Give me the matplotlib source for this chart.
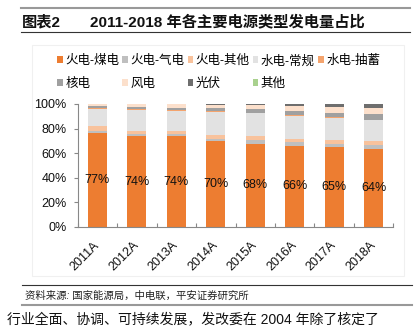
import matplotlib
matplotlib.use('Agg')
import matplotlib.pyplot as plt
import numpy as np
from matplotlib.lines import Line2D
from matplotlib.patches import Rectangle
from matplotlib.ticker import MultipleLocator, FuncFormatter
from matplotlib.transforms import ScaledTranslation

plt.rcParams['font.family'] = ['Liberation Sans', 'Noto Sans CJK SC', 'DejaVu Sans']

years = ['2011A', '2012A', '2013A', '2014A', '2015A', '2016A', '2017A', '2018A']
coal = [76.6, 73.6, 73.6, 69.6, 67.6, 65.6, 64.6, 63.6]
gas = [1.8, 2.0, 2.1, 2.2, 3.0, 3.1, 3.2, 3.2]
thermal_other = [3.6, 2.6, 2.6, 3.3, 3.2, 3.0, 3.2, 3.2]
hydro = [14.2, 17.0, 16.2, 18.6, 18.6, 18.9, 17.6, 16.8]
pumped = [0.4, 0.4, 0.4, 0.4, 0.5, 0.5, 0.5, 0.5]
nuclear = [1.8, 2.0, 2.1, 2.4, 3.0, 3.5, 3.9, 4.2]
wind = [1.3, 2.0, 2.6, 2.8, 3.2, 4.0, 4.8, 5.3]
solar = [0.3, 0.4, 0.4, 0.7, 0.9, 1.4, 2.2, 3.2]
others = [0.0, 0.0, 0.0, 0.0, 0.0, 0.0, 0.0, 0.0]

series = [coal, gas, thermal_other, hydro, pumped, nuclear, wind, solar, others]
names = ['火电-煤电', '火电-气电', '火电-其他', '水电-常规', '水电-抽蓄',
         '核电', '风电', '光伏', '其他']
colors = ['#ED7D31', '#BFBFBF', '#F8C29C', '#E2E2E2', '#F4A46E',
          '#A0A0A0', '#FCE0CC', '#6E6E6E', '#A9D18E']

W, H = 416, 327
fig = plt.figure(figsize=(W / 100, H / 100), dpi=100)
fig.patch.set_facecolor('white')


def fx(px):
    return px / W


def fy(py):
    return 1 - py / H


# faint chart-area frame
fig.add_artist(Rectangle((fx(32), fy(276)), fx(404) - fx(32), fy(45) - fy(276),
                         transform=fig.transFigure, fill=False,
                         edgecolor='#F0F0F0', linewidth=0.8))

ax = fig.add_axes([fx(77.7), fy(226.7), fx(393.3) - fx(77.7), fy(104) - fy(226.7)])
x = np.arange(len(years))
bottom = np.zeros(len(years))
handles = []
for vals, name, c in zip(series, names, colors):
    vals = np.asarray(vals)
    b = ax.bar(x, vals, width=0.48, bottom=bottom, color=c, label=name, linewidth=0)
    bottom += vals
    handles.append(b)

for xi, v in zip(x, coal):
    ax.text(xi, v / 2, f'{v:.0f}%', ha='center', va='center', fontsize=9, color='#111111')

ax.set_xlim(-0.5, len(years) - 0.5)
ax.set_ylim(0, 100)
ax.yaxis.set_major_locator(MultipleLocator(20))
ax.yaxis.set_major_formatter(FuncFormatter(lambda v, p: f'{v:.0f}%'))
ax.tick_params(axis='y', direction='out', length=3, width=0.8, color='#888888',
               pad=5, labelsize=9, labelcolor='#111111')

ax.set_xticks(x)
ax.set_xticklabels(years, rotation=45, ha='right', va='top')
ax.set_xticks(np.arange(-0.5, len(years), 1), minor=True)
ax.tick_params(axis='x', which='major', length=0, pad=9, labelsize=9, labelcolor='#111111')
ax.tick_params(axis='x', which='minor', direction='in', length=3, width=0.8, color='#888888')
shift = ScaledTranslation(4 / 100, 0, fig.dpi_scale_trans)
for lab in ax.get_xticklabels():
    lab.set_transform(lab.get_transform() + shift)

for s in ['top', 'right']:
    ax.spines[s].set_visible(False)
for s in ['left', 'bottom']:
    ax.spines[s].set_color('#888888')
    ax.spines[s].set_linewidth(0.8)

order = [0, 5, 1, 6, 2, 7, 3, 8, 4]
fig.legend([handles[i] for i in order], [names[i] for i in order],
           loc='upper left', bbox_to_anchor=(fx(57), fy(55)), ncol=5,
           frameon=False, fontsize=9, handlelength=0.45, handleheight=0.45,
           handletextpad=0.2, columnspacing=0.25, labelspacing=0.85,
           borderpad=0, borderaxespad=0)

# header
fig.add_artist(Line2D([fx(21), fx(410)], [fy(8), fy(8)], color='#999999', linewidth=1.5))
fig.text(fx(22), fy(22), '图表2', fontsize=11, fontweight='bold', va='center', color='#111111')
fig.text(fx(90), fy(22), '2011-2018 年各主要电源类型发电量占比', fontsize=11,
         fontweight='bold', va='center', color='#111111')
fig.add_artist(Line2D([fx(21), fx(410)], [fy(32.3), fy(32.3)], color='#333333', linewidth=0.8))

# footer
fig.add_artist(Line2D([fx(22), fx(412)], [fy(285), fy(285)], color='#333333', linewidth=0.8))
fig.text(fx(25), fy(296), '资料来源: 国家能源局，中电联，平安证券研究所', fontsize=7.5,
         va='center', style='italic', color='#222222')
fig.add_artist(Line2D([fx(22), fx(412)], [fy(305), fy(305)], color='#999999', linewidth=1.5))
fig.text(fx(7), fy(319.5), '行业全面、协调、可持续发展，发改委在 2004 年除了核定了',
         fontsize=10, va='center', color='#111111')

fig.savefig('out.png', dpi=100)
